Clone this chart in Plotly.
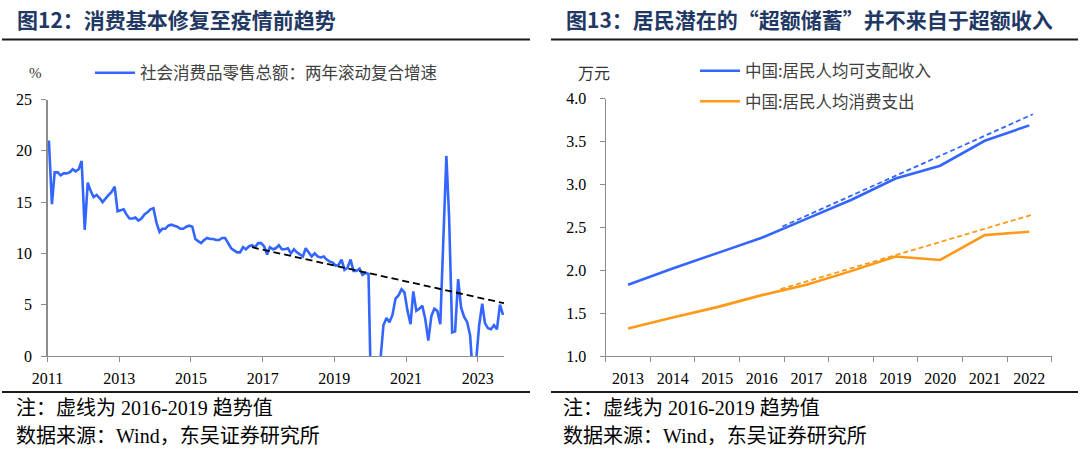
import plotly.graph_objects as go

W, H = 1080, 453

# ---------------- Left chart data (monthly, Jan 2011 - Sep 2023) ----------------
retail_growth = [
    # 2011
    21.0, 14.8, 17.9, 17.9, 17.6, 17.8, 17.8, 17.9, 18.2, 18.0, 18.2, 19.0,
    # 2012
    12.3, 16.9, 16.1, 15.5, 15.7, 15.4, 15.0, 15.4, 15.7, 16.0, 16.5, 14.1,
    # 2013
    14.2, 14.3, 13.8, 13.4, 13.4, 13.5, 13.2, 13.4, 13.8, 14.0, 14.3, 14.4,
    # 2014
    13.0, 12.1, 12.4, 12.4, 12.7, 12.8, 12.7, 12.6, 12.4, 12.4, 12.6, 12.7,
    # 2015
    12.6, 11.4, 11.2, 11.0, 11.3, 11.5, 11.4, 11.4, 11.3, 11.3, 11.5, 11.5,
    # 2016
    11.0, 10.5, 10.3, 10.1, 10.1, 10.6, 10.4, 10.7, 10.8, 10.6, 11.0, 11.0,
    # 2017
    10.7, 9.9, 10.6, 10.4, 10.5, 10.8, 10.4, 10.4, 10.5, 10.0, 10.4, 10.1,
    # 2018
    9.9, 9.7, 10.5, 10.1, 9.7, 10.0, 9.7, 9.6, 9.7, 9.4, 9.2, 9.1,
    # 2019
    8.8, 8.9, 9.4, 8.4, 8.6, 9.4, 8.3, 8.3, 8.5, 7.9, 8.1, 8.0,
    # 2020
    -1.5, -20.5, -15.8, -0.3, 3.0, 3.7, 3.3, 4.0, 5.6, 5.9, 6.5, 6.2,
    # 2021
    4.4, 3.1, 6.3, 4.4, 4.6, 4.9, 3.6, 1.5, 3.9, 4.6, 4.4, 3.1,
    # 2022
    11.5, 19.5, 13.5, 2.3, 2.4, 7.5, 4.7, 3.8, 3.3, 2.0, -2.4, -0.5,
    # 2023
    3.0, 5.1, 3.2, 2.7, 2.6, 3.0, 2.6, 5.0, 4.0,
]
retail_months = [f"{y}-{m:02d}-15" for y in range(2011, 2024) for m in range(1, 13)][:len(retail_growth)]

retail_trend_x = ["2016-09-13", "2023-09-25"]
retail_trend_y = [10.6, 5.15]

left_ticks = ["2011-01-01", "2013-01-01", "2015-01-01", "2017-01-01",
              "2019-01-01", "2021-01-01", "2023-01-01"]
left_tick_text = ["2011", "2013", "2015", "2017", "2019", "2021", "2023"]

# ---------------- Right chart data (annual, 10k yuan) ----------------
years = [2013, 2014, 2015, 2016, 2017, 2018, 2019, 2020, 2021, 2022]
income = [1.83, 2.02, 2.20, 2.38, 2.60, 2.82, 3.07, 3.22, 3.51, 3.69]
consumption = [1.32, 1.45, 1.57, 1.71, 1.83, 1.99, 2.16, 2.12, 2.41, 2.45]

income_trend_x = [2016.46, 2022.08]
income_trend_y = [2.51, 3.82]
consumption_trend_x = [2016.42, 2022.08]
consumption_trend_y = [1.78, 2.65]

BLUE = "rgb(51,102,255)"
ORANGE = "rgb(255,153,25)"
AXIS = "#8c8c8c"
TITLE = "#1f3864"
SERIF = "Liberation Serif, Noto Sans CJK SC"
CJK = "Noto Sans CJK SC"


def px(x):
    return x / W


def py(y):
    return 1 - y / H


fig = go.Figure()

fig.add_trace(go.Scatter(
    x=retail_months, y=retail_growth, mode="lines",
    name="社会消费品零售总额：两年滚动复合增速",
    line=dict(color=BLUE, width=2.6),
    xaxis="x", yaxis="y", legend="legend",
))
fig.add_trace(go.Scatter(
    x=retail_trend_x, y=retail_trend_y, mode="lines",
    line=dict(color="black", width=1.8, dash="7px,4px"),
    showlegend=False, xaxis="x", yaxis="y",
))

fig.add_trace(go.Scatter(
    x=years, y=income, mode="lines", name="中国:居民人均可支配收入",
    line=dict(color=BLUE, width=2.6), xaxis="x2", yaxis="y2",
    legend="legend2", legendgroup="a",
))
fig.add_trace(go.Scatter(
    x=years, y=consumption, mode="lines", name="中国:居民人均消费支出",
    line=dict(color=ORANGE, width=2.6), xaxis="x2", yaxis="y2",
    legend="legend2", legendgroup="b",
))
fig.add_trace(go.Scatter(
    x=income_trend_x, y=income_trend_y, mode="lines",
    line=dict(color=BLUE, width=1.8, dash="5px,3px"),
    showlegend=False, xaxis="x2", yaxis="y2",
))
fig.add_trace(go.Scatter(
    x=consumption_trend_x, y=consumption_trend_y, mode="lines",
    line=dict(color=ORANGE, width=1.8, dash="5px,3px"),
    showlegend=False, xaxis="x2", yaxis="y2",
))

tickfont = dict(family=SERIF, size=16, color="black")
common = dict(showline=True, linecolor=AXIS, linewidth=1.3, showgrid=False,
              zeroline=False, tickfont=tickfont, automargin=False)

fig.update_layout(
    width=W, height=H,
    margin=dict(l=0, r=0, t=0, b=0, autoexpand=False),
    paper_bgcolor="white", plot_bgcolor="white",
    xaxis=dict(
        domain=[px(47.5), px(504)], anchor="y", type="date",
        range=["2011-01-01", "2023-09-25"],
        tickmode="array", tickvals=left_ticks, ticktext=left_tick_text,
        ticks="outside", ticklen=5, tickcolor=AXIS, tickwidth=1,
        ticklabelstandoff=2, **common,
    ),
    yaxis=dict(
        domain=[py(356), py(99.5)], anchor="x",
        range=[0, 25], tickmode="array", tickvals=[0, 5, 10, 15, 20, 25],
        ticks="outside", ticklen=5, tickcolor=AXIS, tickwidth=1,
        ticklabelstandoff=6, **common,
    ),
    xaxis2=dict(
        domain=[px(605.8), px(1051.6)], anchor="y2",
        range=[2012.5, 2022.5], tickmode="array", tickvals=years,
        ticktext=[str(y) for y in years], ticks="",
        minor=dict(tickmode="array",
                   tickvals=[y - 0.5 for y in years] + [years[-1] + 0.5],
                   ticks="outside", ticklen=5, tickcolor=AXIS, tickwidth=1),
        ticklabelstandoff=7, **common,
    ),
    yaxis2=dict(
        domain=[py(356), py(98.8)], anchor="x2",
        range=[1.0, 4.0], tickmode="array",
        tickvals=[1.0, 1.5, 2.0, 2.5, 3.0, 3.5, 4.0],
        ticktext=["1.0", "1.5", "2.0", "2.5", "3.0", "3.5", "4.0"],
        ticks="outside", ticklen=5, tickcolor=AXIS, tickwidth=1,
        ticklabelstandoff=10, **common,
    ),
    legend=dict(
        x=px(90), y=py(73), xanchor="left", yanchor="middle",
        bgcolor="rgba(0,0,0,0)", font=dict(family=CJK, size=16.5, color="#404040"),
        itemwidth=40,
    ),
    legend2=dict(
        x=px(695), y=py(86), xanchor="left", yanchor="middle",
        bgcolor="rgba(0,0,0,0)", font=dict(family=CJK, size=16.5, color="#404040"),
        itemwidth=40, tracegroupgap=6, traceorder="grouped",
    ),
    showlegend=True,
)

annotations = [
    dict(text="<b>图12：消费基本修复至疫情前趋势</b>", x=px(15), y=py(19),
         xanchor="left", yanchor="middle", font=dict(family=CJK, size=21, color=TITLE)),
    dict(text="<b>图13：居民潜在的“超额储蓄”并不来自于超额收入</b>", x=px(564), y=py(19),
         xanchor="left", yanchor="middle", font=dict(family=CJK, size=21, color=TITLE)),
    dict(text="%", x=px(35), y=py(73), xanchor="center", yanchor="middle",
         font=dict(family=SERIF, size=15, color="#333333")),
    dict(text="万元", x=px(594), y=py(72), xanchor="center", yanchor="middle",
         font=dict(family=CJK, size=16, color="#333333")),
    dict(text="注：虚线为 2016-2019 趋势值", x=px(14), y=py(408),
         xanchor="left", yanchor="middle", font=dict(family=SERIF, size=20, color="black")),
    dict(text="数据来源：Wind，东吴证券研究所", x=px(14), y=py(436),
         xanchor="left", yanchor="middle", font=dict(family=SERIF, size=20, color="black")),
    dict(text="注：虚线为 2016-2019 趋势值", x=px(561), y=py(408),
         xanchor="left", yanchor="middle", font=dict(family=SERIF, size=20, color="black")),
    dict(text="数据来源：Wind，东吴证券研究所", x=px(561), y=py(436),
         xanchor="left", yanchor="middle", font=dict(family=SERIF, size=20, color="black")),
]
for a in annotations:
    a.update(xref="paper", yref="paper", showarrow=False)
fig.update_layout(annotations=annotations)

shapes = []
for (x0, x1) in [(2, 530), (551, 1078)]:
    for yy in (39.5, 392):
        shapes.append(dict(type="line", xref="paper", yref="paper",
                           x0=px(x0), x1=px(x1), y0=py(yy), y1=py(yy),
                           line=dict(color="#1a1a1a", width=2)))
fig.update_layout(shapes=shapes)

fig.write_html(
    "out.html",
    config={"displayModeBar": False, "staticPlot": True},
    post_script="document.body.style.margin='0px';document.body.style.padding='0px';"
                "document.body.style.overflow='hidden';",
)
